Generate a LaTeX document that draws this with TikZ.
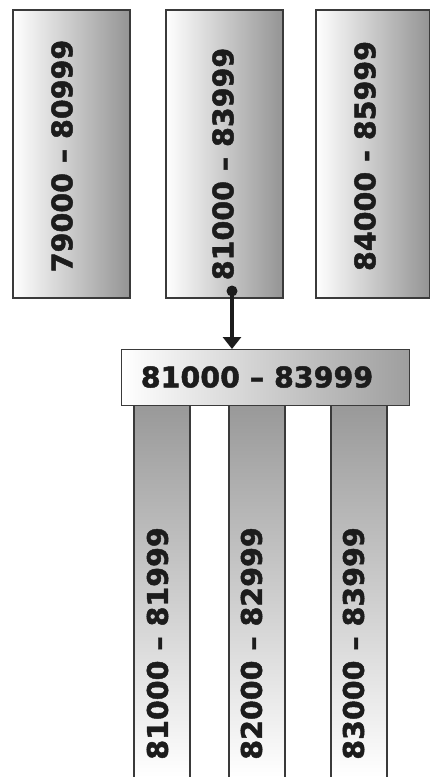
\documentclass[tikz,border=0pt]{standalone}
\usepackage{fontspec}
\setmainfont{DejaVu Sans}[BoldFeatures={FakeBold=1.6}]
\usetikzlibrary{arrows.meta}
\definecolor{ink}{HTML}{1C1C1C}
\definecolor{edge}{HTML}{3A3A3A}
\tikzset{
  x=1pt, y=-1pt,
  topbox/.style={draw=edge, line width=1.3pt, left color=white, right color=black!42},
  midbox/.style={draw=edge, line width=1.3pt, left color=white, right color=black!38},
  colfill/.style={top color=black!40, bottom color=white, draw=none},
  colside/.style={draw=edge, line width=1.3pt},
  lbl/.style={font=\fontsize{28.5}{29}\selectfont\bfseries, text=ink, inner sep=0pt},
  vlbl/.style={lbl, rotate=90},
  link/.style={draw=ink, line width=3.6pt, -{Triangle[width=18pt,length=12pt]}},
}
\begin{document}
\begin{tikzpicture}
\useasboundingbox (0,0) rectangle (431,777);
% top boxes
\path[topbox] (13,10) rectangle (130,298);
\path[topbox] (166,10) rectangle (283,298);
\path[topbox] (316,10) rectangle (429.5,298);
\node[vlbl] (t1) at (62,156) {79000 – 80999};
\node[vlbl] (t2) at (223,164) {81000 – 83999};
\node[vlbl] (t3) at (365,156) {84000 - 85999};
% lower columns
\path[colfill] (134,405) rectangle (190,777);
\path[colfill] (229,405) rectangle (285,777);
\path[colfill] (331,405) rectangle (387,777);
\draw[colside] (134,405) -- (134,777) (190,405) -- (190,777);
\draw[colside] (229,405) -- (229,777) (285,405) -- (285,777);
\draw[colside] (331,405) -- (331,777) (387,405) -- (387,777);
\node[vlbl] (c1) at (157.5,643.5) {81000 – 81999};
\node[vlbl] (c2) at (251.5,643.5) {82000 – 82999};
\node[vlbl] (c3) at (353.5,643.5) {83000 – 83999};
% middle box
\node[midbox, minimum width=288pt, minimum height=56pt, inner sep=0pt, anchor=north west] (m) at (121,349) {};
\node[lbl] (mt) at (257,377) {81000 – 83999};
% connector
\coordinate (src) at (232,291);
\fill[ink] (src) circle (5.5pt);
\coordinate (dst) at (232,349);
\draw[link] (src) -- (dst);
\end{tikzpicture}
\end{document}
